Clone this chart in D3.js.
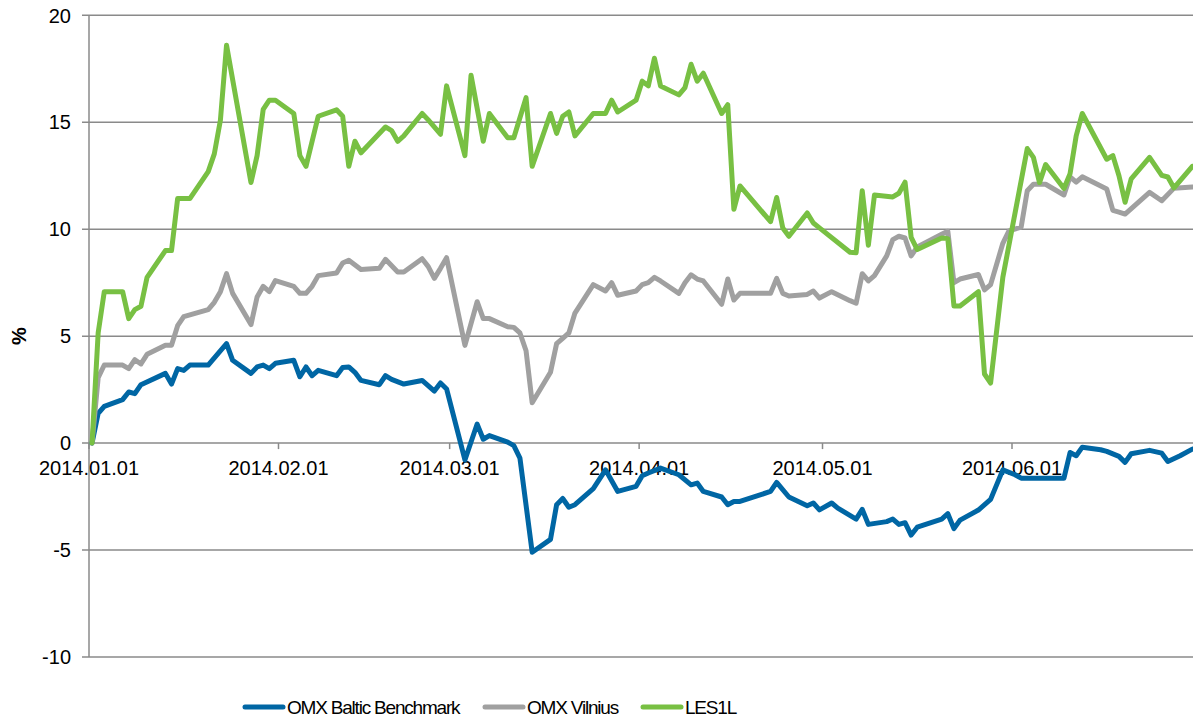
<!DOCTYPE html>
<html>
<head>
<meta charset="utf-8">
<script src="https://cdn.jsdelivr.net/npm/d3@7"></script>
<style>
  body { margin: 0; background: #fff; }
  text { font-family: "Liberation Sans", Arial, sans-serif; fill: #000; }
</style>
</head>
<body>
<div id="chart"></div>
<script>
// series names, colours, axis ticks
const seriesNames = ["OMX Baltic Benchmark", "OMX Vilnius", "LES1L"];
const seriesColors = ["#0066a4", "#a0a0a0", "#78c043"];
const yTicks = [-10, -5, 0, 5, 10, 15, 20];
const monthTicks = ["01-01", "02-01", "03-01", "04-01", "05-01", "06-01"];

// % change since 2014.01.01, [month-day, value]
const baltic = [
  ["01-01", 0], ["01-02", 1.39], ["01-03", 1.72], ["01-06", 2.03], ["01-07", 2.39], ["01-08", 2.31],
  ["01-09", 2.73], ["01-13", 3.26], ["01-14", 2.76], ["01-15", 3.48], ["01-16", 3.4], ["01-17", 3.65],
  ["01-20", 3.65], ["01-23", 4.65], ["01-24", 3.87], ["01-27", 3.26], ["01-28", 3.56], ["01-29", 3.65],
  ["01-30", 3.48], ["01-31", 3.73], ["02-03", 3.87], ["02-04", 3.1], ["02-05", 3.56], ["02-06", 3.15],
  ["02-07", 3.4], ["02-10", 3.15], ["02-11", 3.53], ["02-12", 3.56], ["02-13", 3.31], ["02-14", 2.93],
  ["02-17", 2.73], ["02-18", 3.15], ["02-19", 2.98], ["02-21", 2.76], ["02-24", 2.93], ["02-26", 2.43],
  ["02-27", 2.81], ["02-28", 2.53], ["03-03", -0.79], ["03-05", 0.89], ["03-06", 0.18], ["03-07", 0.35],
  ["03-10", 0.05], ["03-11", -0.12], ["03-12", -0.7], ["03-14", -5.1], ["03-17", -4.5], ["03-18", -2.88],
  ["03-19", -2.59], ["03-20", -3.0], ["03-21", -2.88], ["03-24", -2.13], ["03-26", -1.25], ["03-28", -2.26],
  ["03-31", -2.02], ["04-01", -1.53], ["04-02", -1.4], ["04-04", -1.17], ["04-07", -1.48], ["04-09", -1.95],
  ["04-10", -1.87], ["04-11", -2.26], ["04-14", -2.52], ["04-15", -2.88], ["04-16", -2.73], ["04-17", -2.73],
  ["04-22", -2.26], ["04-23", -1.84], ["04-25", -2.52], ["04-28", -2.93], ["04-29", -2.8], ["04-30", -3.12],
  ["05-02", -2.8], ["05-03", -3.04], ["05-06", -3.55], ["05-07", -3.1], ["05-08", -3.8], ["05-11", -3.67],
  ["05-12", -3.55], ["05-13", -3.8], ["05-14", -3.72], ["05-15", -4.3], ["05-16", -3.93], ["05-20", -3.55],
  ["05-21", -3.3], ["05-22", -4.0], ["05-23", -3.6], ["05-26", -3.13], ["05-28", -2.63], ["05-30", -1.25],
  ["06-01", -1.48], ["06-02", -1.64], ["06-09", -1.64], ["06-10", -0.44], ["06-11", -0.59], ["06-12", -0.19],
  ["06-15", -0.31], ["06-16", -0.39], ["06-18", -0.62], ["06-19", -0.9], ["06-20", -0.5], ["06-23", -0.34],
  ["06-25", -0.47], ["06-26", -0.86], ["06-28", -0.59], ["06-30", -0.28]
];

const vilnius = [
  ["01-01", 0], ["01-02", 3.06], ["01-03", 3.65], ["01-06", 3.65], ["01-07", 3.48], ["01-08", 3.9],
  ["01-09", 3.7], ["01-10", 4.15], ["01-13", 4.57], ["01-14", 4.57], ["01-15", 5.49], ["01-16", 5.91],
  ["01-20", 6.24], ["01-21", 6.58], ["01-22", 7.08], ["01-23", 7.92], ["01-24", 7.0], ["01-27", 5.54],
  ["01-28", 6.83], ["01-29", 7.33], ["01-30", 7.08], ["01-31", 7.6], ["02-03", 7.33], ["02-04", 7.0],
  ["02-05", 7.0], ["02-06", 7.33], ["02-07", 7.83], ["02-10", 7.95], ["02-11", 8.42], ["02-12", 8.55],
  ["02-14", 8.12], ["02-17", 8.17], ["02-18", 8.59], ["02-20", 8.0], ["02-21", 8.0], ["02-24", 8.62],
  ["02-25", 8.25], ["02-26", 7.7], ["02-27", 8.17], ["02-28", 8.67], ["03-03", 4.57], ["03-05", 6.61],
  ["03-06", 5.82], ["03-07", 5.82], ["03-10", 5.44], ["03-11", 5.41], ["03-12", 5.15], ["03-13", 4.32],
  ["03-14", 1.89], ["03-17", 3.31], ["03-18", 4.65], ["03-19", 4.9], ["03-20", 5.15], ["03-21", 6.08],
  ["03-24", 7.41], ["03-26", 7.11], ["03-27", 7.5], ["03-28", 6.91], ["03-31", 7.11], ["04-01", 7.41],
  ["04-02", 7.5], ["04-03", 7.75], ["04-04", 7.58], ["04-07", 7.0], ["04-08", 7.5], ["04-09", 7.87],
  ["04-10", 7.67], ["04-11", 7.58], ["04-14", 6.49], ["04-15", 7.67], ["04-16", 6.69], ["04-17", 7.0],
  ["04-22", 7.0], ["04-23", 7.7], ["04-24", 7.0], ["04-25", 6.88], ["04-28", 6.95], ["04-29", 7.11],
  ["04-30", 6.78], ["05-02", 7.08], ["05-05", 6.66], ["05-06", 6.54], ["05-07", 7.92], ["05-08", 7.58],
  ["05-09", 7.83], ["05-11", 8.75], ["05-12", 9.51], ["05-13", 9.67], ["05-14", 9.59], ["05-15", 8.75],
  ["05-16", 9.17], ["05-20", 9.76], ["05-21", 9.9], ["05-22", 7.5], ["05-23", 7.67], ["05-26", 7.88],
  ["05-27", 7.16], ["05-28", 7.41], ["05-30", 9.34], ["05-31", 9.92], ["06-02", 10.1], ["06-03", 11.8],
  ["06-04", 12.1], ["06-06", 12.1], ["06-09", 11.6], ["06-10", 12.45], ["06-11", 12.2], ["06-12", 12.45],
  ["06-16", 11.88], ["06-17", 10.88], ["06-18", 10.8], ["06-19", 10.71], ["06-23", 11.72], ["06-25", 11.33],
  ["06-27", 11.92], ["06-30", 11.97]
];

const les1l = [
  ["01-01", 0], ["01-02", 5.15], ["01-03", 7.08], ["01-06", 7.08], ["01-07", 5.82], ["01-08", 6.24],
  ["01-09", 6.4], ["01-10", 7.75], ["01-13", 9.0], ["01-14", 9.0], ["01-15", 11.43], ["01-17", 11.43],
  ["01-20", 12.69], ["01-21", 13.52], ["01-22", 15.1], ["01-23", 18.6], ["01-27", 12.18], ["01-28", 13.44],
  ["01-29", 15.6], ["01-30", 16.03], ["01-31", 16.03], ["02-03", 15.41], ["02-04", 13.44], ["02-05", 12.94],
  ["02-07", 15.28], ["02-10", 15.58], ["02-11", 15.28], ["02-12", 12.94], ["02-13", 14.11], ["02-14", 13.57],
  ["02-18", 14.78], ["02-19", 14.61], ["02-20", 14.11], ["02-21", 14.36], ["02-24", 15.41], ["02-25", 15.11],
  ["02-27", 14.44], ["02-28", 16.7], ["03-03", 13.44], ["03-04", 17.2], ["03-06", 14.11], ["03-07", 15.41],
  ["03-10", 14.28], ["03-11", 14.28], ["03-13", 16.15], ["03-14", 12.94], ["03-17", 15.41], ["03-18", 14.48],
  ["03-19", 15.28], ["03-20", 15.48], ["03-21", 14.36], ["03-24", 15.41], ["03-26", 15.41], ["03-27", 16.03],
  ["03-28", 15.48], ["03-31", 16.03], ["04-01", 16.92], ["04-02", 16.7], ["04-03", 17.99], ["04-04", 16.7],
  ["04-07", 16.28], ["04-08", 16.62], ["04-09", 17.71], ["04-10", 16.92], ["04-11", 17.29], ["04-14", 15.41],
  ["04-15", 15.82], ["04-16", 10.93], ["04-17", 12.02], ["04-22", 10.35], ["04-23", 11.48], ["04-24", 10.06],
  ["04-25", 9.67], ["04-28", 10.76], ["04-29", 10.29], ["04-30", 10.06], ["05-05", 8.92], ["05-06", 8.9],
  ["05-07", 11.8], ["05-08", 9.25], ["05-09", 11.6], ["05-12", 11.51], ["05-13", 11.68], ["05-14", 12.2],
  ["05-15", 9.62], ["05-16", 9.05], ["05-20", 9.59], ["05-21", 9.56], ["05-22", 6.41], ["05-23", 6.41],
  ["05-26", 7.08], ["05-27", 3.23], ["05-28", 2.81], ["05-30", 7.75], ["06-03", 13.77], ["06-04", 13.36],
  ["06-05", 12.18], ["06-06", 13.02], ["06-09", 11.9], ["06-10", 12.6], ["06-11", 14.36], ["06-12", 15.41],
  ["06-16", 13.27], ["06-17", 13.44], ["06-18", 12.5], ["06-19", 11.26], ["06-20", 12.35], ["06-23", 13.36],
  ["06-25", 12.52], ["06-26", 12.44], ["06-27", 11.93], ["06-30", 12.94]
];

const width = 1193;
const height = 720;
const parseDay = d3.utcParse("%Y-%m-%d");
const toDate = (md) => parseDay("2014-" + md);

const svg = d3.select("#chart")
  .append("svg")
  .attr("width", width)
  .attr("height", height);

const x = d3.scaleUtc()
  .domain([toDate("01-01"), toDate("07-01")])
  .range([89, 89 + 181 * 6.1126]);

const y = d3.scaleLinear()
  .domain([-10, 20])
  .range([657, 15.3]);

// horizontal grid lines (the 0 line is the date axis)
svg.append("g")
  .selectAll("line")
  .data(yTicks)
  .enter().append("line")
  .attr("x1", 82)
  .attr("x2", width)
  .attr("y1", d => y(d))
  .attr("y2", d => y(d))
  .attr("stroke", "#8a8a8a")
  .attr("stroke-width", 1.5);

// y axis line
svg.append("line")
  .attr("x1", 89).attr("x2", 89)
  .attr("y1", y(20)).attr("y2", y(-10))
  .attr("stroke", "#8a8a8a")
  .attr("stroke-width", 1.5);

svg.append("g")
  .selectAll("text")
  .data(yTicks)
  .enter().append("text")
  .attr("x", 71)
  .attr("y", d => y(d))
  .attr("dy", "0.36em")
  .attr("text-anchor", "end")
  .style("font-size", "20px")
  .text(d => d);

svg.append("text")
  .attr("transform", "translate(26," + y(5) + ") rotate(-90)")
  .attr("text-anchor", "middle")
  .style("font-size", "20px")
  .style("font-weight", "bold")
  .text("%");

// date ticks and labels on the 0 line
const fmt = d3.utcFormat("%Y.%m.%d");
const xt = svg.append("g")
  .selectAll("g")
  .data(monthTicks.map(toDate))
  .enter().append("g")
  .attr("transform", d => "translate(" + x(d) + "," + y(0) + ")");

xt.append("line")
  .attr("y2", 6)
  .attr("stroke", "#8a8a8a")
  .attr("stroke-width", 1.5);

xt.append("text")
  .attr("y", 32)
  .attr("text-anchor", "middle")
  .style("font-size", "20px")
  .text(d => fmt(d));

// lines, points sit in the middle of their day
const line = d3.line()
  .x(d => x(d3.utcHour.offset(toDate(d[0]), 12)))
  .y(d => y(d[1]));

[baltic, vilnius, les1l].forEach((s, i) => {
  svg.append("path")
    .datum(s)
    .attr("d", line)
    .attr("fill", "none")
    .attr("stroke", seriesColors[i])
    .attr("stroke-width", 5)
    .attr("stroke-linejoin", "round")
    .attr("stroke-linecap", "round");
});

// legend
const legendX = [245, 485, 643];
const legend = svg.append("g")
  .selectAll("g")
  .data(seriesNames)
  .enter().append("g")
  .attr("transform", (d, i) => "translate(" + legendX[i] + ",707)");

legend.append("line")
  .attr("x1", 0).attr("x2", 38)
  .attr("stroke", (d, i) => seriesColors[i])
  .attr("stroke-width", 5)
  .attr("stroke-linecap", "round");

legend.append("text")
  .attr("x", 42)
  .attr("dy", "0.36em")
  .style("font-size", "19px")
  .style("letter-spacing", "-1.2px")
  .text(d => d);
</script>
</body>
</html>
